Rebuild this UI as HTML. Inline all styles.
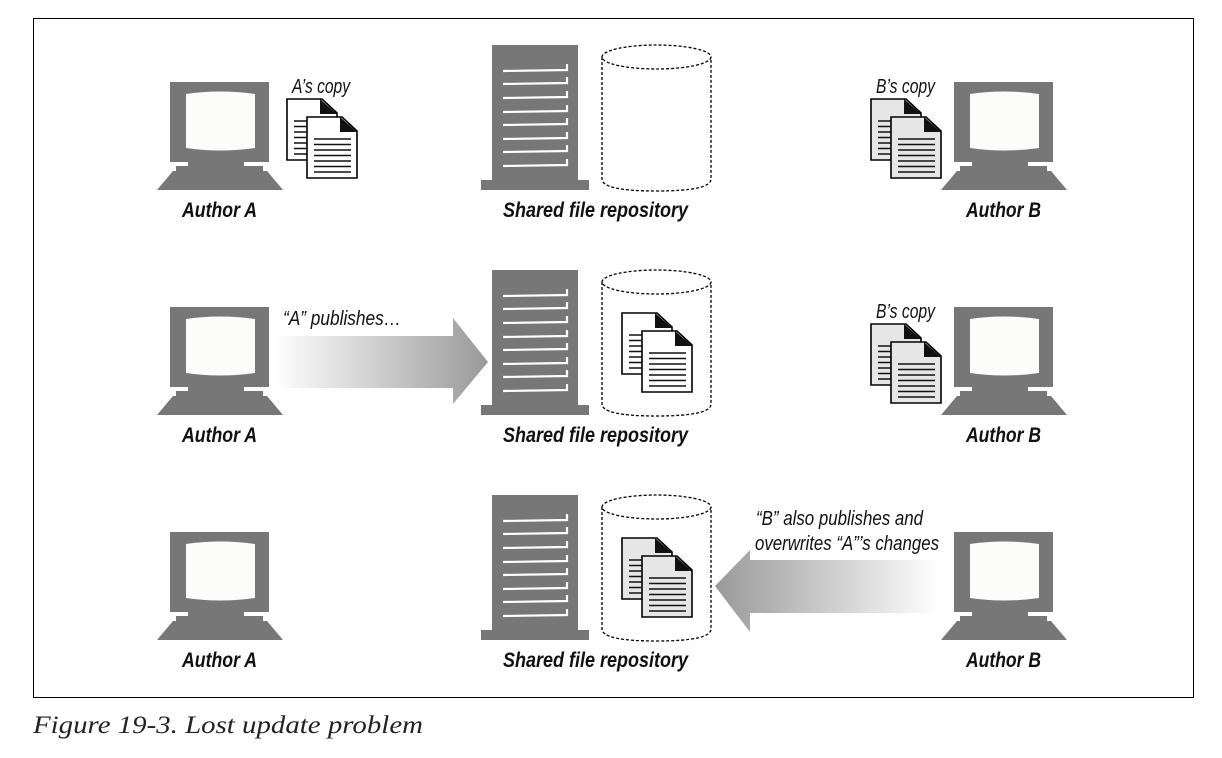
<!DOCTYPE html>
<html><head><meta charset="utf-8"><style>
html,body{margin:0;padding:0;background:#fff;}
svg{display:block;}
.lbl{font-family:"Liberation Sans Narrow","Liberation Sans",sans-serif;font-weight:bold;font-style:italic;font-size:21px;fill:#111;}
.it{font-family:"Liberation Sans Narrow","Liberation Sans",sans-serif;font-style:italic;font-size:20px;fill:#111;}
.cap{font-family:"Liberation Serif",serif;font-style:italic;font-size:25px;fill:#222;}
</style></head><body>
<svg width="1222" height="758" viewBox="0 0 1222 758" xmlns="http://www.w3.org/2000/svg">
<defs>
<g id="mon">
<rect x="0" y="0" width="99" height="80" fill="#777"/>
<path d="M16,12 Q50,7 85,12 L85,66 Q50,71 16,66 Z" fill="#fcfcfa"/>
<rect x="18" y="79" width="46" height="6" fill="#777"/>
<rect x="24" y="79" width="50" height="6" fill="#777"/>
<rect x="6" y="84" width="87" height="6" fill="#777"/>
<polygon points="3,89 97,89 113,108 -13,108" fill="#777"/>
</g>
<g id="page">
<path d="M0,0 L35,0 L50,14 L50,61 L0,61 Z" stroke="#000" stroke-width="1.6"/>
<path d="M33,0 L50,15 L33,15 Z" fill="#111"/>
<g stroke="#111" stroke-width="1.4">
<line x1="7" y1="22" x2="44" y2="22"/><line x1="7" y1="27.5" x2="44" y2="27.5"/><line x1="7" y1="33" x2="44" y2="33"/><line x1="7" y1="38.5" x2="44" y2="38.5"/><line x1="7" y1="44" x2="44" y2="44"/><line x1="7" y1="49.5" x2="44" y2="49.5"/><line x1="7" y1="55" x2="44" y2="55"/>
</g>
</g>
<g id="docsW"><use href="#page" fill="#fff"/><use href="#page" x="20" y="18" fill="#fff"/></g>
<g id="docsG"><use href="#page" fill="#e6e6e6"/><use href="#page" x="20" y="18" fill="#e6e6e6"/></g>
<g id="srv">
<rect x="11" y="0" width="86" height="136" fill="#777"/>
<rect x="0" y="135" width="108" height="10" fill="#777"/>
<g stroke="#fff" stroke-width="2.2" fill="none">
<path d="M22,26 L86,25 L86,19"/><path d="M22,39 L86,38 L86,32"/><path d="M22,53 L86,52 L86,46"/><path d="M22,67 L86,66 L86,60"/><path d="M22,80 L86,79 L86,73"/><path d="M22,94 L86,93 L86,87"/><path d="M22,107 L86,106 L86,100"/><path d="M22,121 L86,120 L86,114"/>
</g>
</g>
<g id="cyl" fill="none" stroke="#000" stroke-width="1.3" stroke-dasharray="3,2">
<ellipse cx="54.5" cy="12" rx="54.5" ry="12"/>
<path d="M0,12 L0,134 Q0,146 54.5,146 Q109,146 109,134 L109,12"/>
</g>
<linearGradient id="gR" x1="0" x2="1"><stop offset="0" stop-color="#fff"/><stop offset="1" stop-color="#999"/></linearGradient>
<linearGradient id="gL" x1="1" x2="0"><stop offset="0" stop-color="#fff"/><stop offset="1" stop-color="#999"/></linearGradient>
</defs>
<rect x="33.5" y="18.5" width="1160" height="679" fill="none" stroke="#000" stroke-width="1"/>

<!-- Row 1 -->
<use href="#mon" x="170" y="82"/>
<text class="it" x="292" y="93" textLength="58" lengthAdjust="spacingAndGlyphs">A’s copy</text>
<use href="#docsW" x="287" y="99"/>
<text class="lbl" x="182" y="217" textLength="75" lengthAdjust="spacingAndGlyphs">Author A</text>
<use href="#srv" x="481" y="45"/>
<use href="#cyl" x="602" y="45"/>
<text class="lbl" x="503" y="217" textLength="185" lengthAdjust="spacingAndGlyphs">Shared file repository</text>
<text class="it" x="876" y="93" textLength="59" lengthAdjust="spacingAndGlyphs">B’s copy</text>
<use href="#docsG" x="871" y="99"/>
<use href="#mon" x="954" y="82"/>
<text class="lbl" x="966" y="217" textLength="75" lengthAdjust="spacingAndGlyphs">Author B</text>

<!-- Row 2 -->
<use href="#mon" x="170" y="307"/>
<polygon points="275,336 453,336 453,318 488,362 453,404 453,388 275,388" fill="url(#gR)"/>
<text class="it" x="283" y="325" textLength="118" lengthAdjust="spacingAndGlyphs">“A” publishes…</text>
<text class="lbl" x="182" y="442" textLength="75" lengthAdjust="spacingAndGlyphs">Author A</text>
<use href="#srv" x="481" y="270"/>
<use href="#cyl" x="602" y="270"/>
<use href="#docsW" x="622" y="313"/>
<text class="lbl" x="503" y="442" textLength="185" lengthAdjust="spacingAndGlyphs">Shared file repository</text>
<text class="it" x="876" y="318" textLength="59" lengthAdjust="spacingAndGlyphs">B’s copy</text>
<use href="#docsG" x="871" y="324"/>
<use href="#mon" x="954" y="307"/>
<text class="lbl" x="966" y="442" textLength="75" lengthAdjust="spacingAndGlyphs">Author B</text>

<!-- Row 3 -->
<use href="#mon" x="170" y="532"/>
<text class="lbl" x="182" y="667" textLength="75" lengthAdjust="spacingAndGlyphs">Author A</text>
<use href="#srv" x="481" y="495"/>
<use href="#cyl" x="602" y="495"/>
<use href="#docsG" x="622" y="538"/>
<text class="lbl" x="503" y="667" textLength="185" lengthAdjust="spacingAndGlyphs">Shared file repository</text>
<polygon points="940,560 750,560 750,550 715,586 750,632 750,613 940,613" fill="url(#gL)"/>
<text class="it" x="756" y="525" textLength="167" lengthAdjust="spacingAndGlyphs">“B” also publishes and</text>
<text class="it" x="755" y="550" textLength="184" lengthAdjust="spacingAndGlyphs">overwrites “A”’s changes</text>
<use href="#mon" x="954" y="532"/>
<text class="lbl" x="966" y="667" textLength="75" lengthAdjust="spacingAndGlyphs">Author B</text>

<text class="cap" x="33" y="733" textLength="390" lengthAdjust="spacingAndGlyphs">Figure 19-3. Lost update problem</text>
</svg>
</body></html>
